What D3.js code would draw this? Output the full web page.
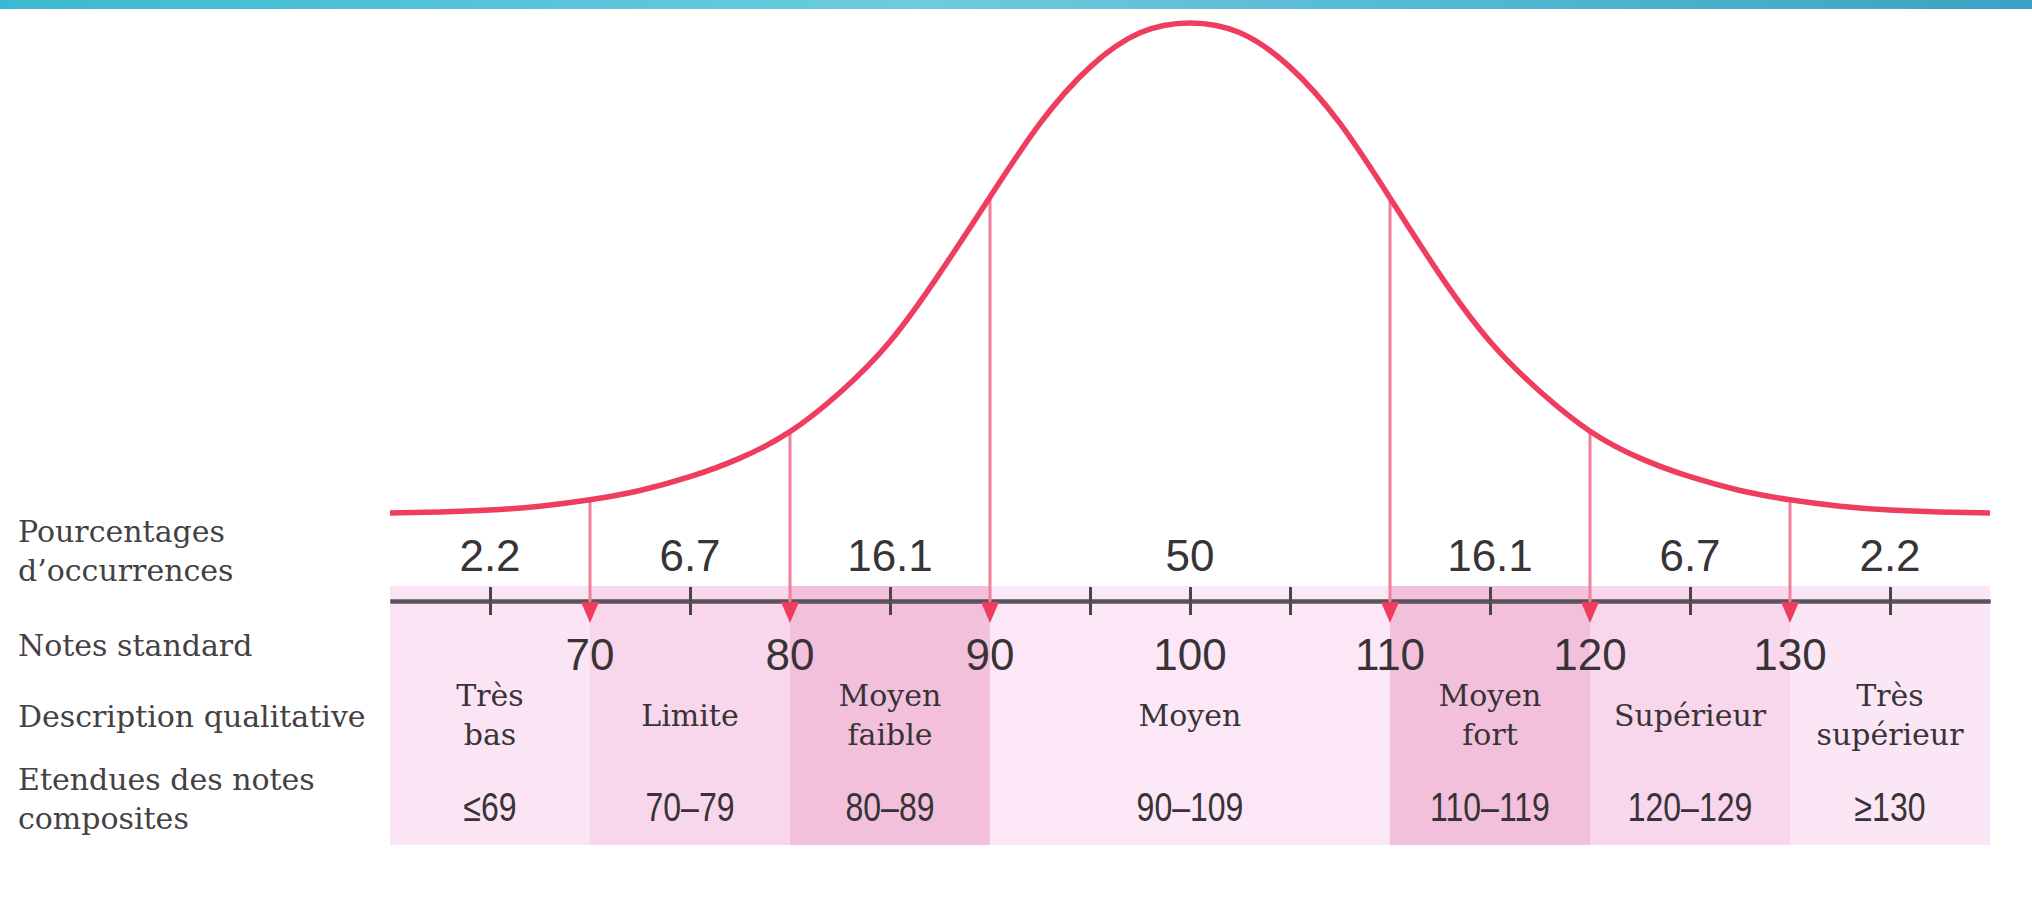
<!DOCTYPE html>
<html>
<head>
<meta charset="utf-8">
<script src="https://cdn.jsdelivr.net/npm/d3@7"></script>
<style>
  body { margin: 0; background: #fff; }
</style>
</head>
<body>
<div id="chart"></div>
<script>
// courbe (hauteur en % du sommet)
const curveScores = [60, 62.5, 65, 67.5, 70, 72.5, 75, 77.5, 80, 82.5, 85, 87.5, 90, 92.5, 95, 97.5, 100,
  102.5, 105, 107.5, 110, 112.5, 115, 117.5, 120, 122.5, 125, 127.5, 130, 132.5, 135, 137.5, 140]
const curveHeights = [0, 0.2, 0.6, 1.4, 2.7, 4.6, 7.4, 11.2, 16.6, 24.6, 35, 49, 64.5, 79.5, 91, 98, 100,
  98, 91, 79.5, 64.3, 48.6, 35, 24.8, 16.7, 11.2, 7.4, 4.6, 2.7, 1.4, 0.6, 0.2, 0]

const cutScores = [70, 80, 90, 100, 110, 120, 130]   // notes standard
const arrowScores = [70, 80, 90, 110, 120, 130]
const tickScores = [65, 75, 85, 95, 100, 105, 115, 125, 135]

const bandFrom = [60, 70, 80, 90, 110, 120, 130]
const bandTo = [70, 80, 90, 110, 120, 130, 140]
const percentages = ['2.2', '6.7', '16.1', '50', '16.1', '6.7', '2.2']
const percentAt = [65, 75, 85, 100, 115, 125, 135]
const descriptions = [['Très', 'bas'], ['Limite'], ['Moyen', 'faible'], ['Moyen'],
  ['Moyen', 'fort'], ['Supérieur'], ['Très', 'supérieur']]
const ranges = ['≤69', '70–79', '80–89', '90–109', '110–119', '120–129', '≥130']

const rowLabels = [
  { lines: ['Pourcentages', 'd’occurrences'], y: 542 },
  { lines: ['Notes standard'], y: 656 },
  { lines: ['Description qualitative'], y: 727 },
  { lines: ['Etendues des notes', 'composites'], y: 790 }
]

const WIDTH = 2032
const HEIGHT = 913
const AXIS_Y = 601
const BAND_TOP = 586
const BAND_BOTTOM = 845
const BAND_COLORS = ['#fbe5f5', '#f8d6eb', '#f3c0dc', '#fce7f6', '#f3c0dc', '#f8d6eb', '#fbe6f6']
const RED = '#ee3d5f'
const TEXT = '#383336'
const SERIF = '"DejaVu Serif", serif'
const SANS = '"Liberation Sans", Arial, sans-serif'

const svg = d3.select('#chart').append('svg')
  .attr('width', WIDTH).attr('height', HEIGHT)

const x = d3.scaleLinear().domain([60, 140]).range([390, 1990])
const y = d3.scaleLinear().domain([0, 100]).range([513, 23])

// bandeau du haut
const grad = svg.append('defs').append('linearGradient').attr('id', 'topbar')
grad.append('stop').attr('offset', '0%').attr('stop-color', '#3cb9d2')
grad.append('stop').attr('offset', '45%').attr('stop-color', '#6ccce0')
grad.append('stop').attr('offset', '100%').attr('stop-color', '#3aa3c3')
svg.append('rect').attr('x', 0).attr('y', 0).attr('width', WIDTH).attr('height', 9)
  .attr('fill', 'url(#topbar)')

// zones colorées
svg.append('g').selectAll('rect')
  .data(bandFrom)
  .enter()
  .append('rect')
  .attr('x', d => x(d))
  .attr('width', (d, i) => x(bandTo[i]) - x(d))
  .attr('y', BAND_TOP)
  .attr('height', BAND_BOTTOM - BAND_TOP)
  .attr('fill', (d, i) => BAND_COLORS[i])

// axe
svg.append('g')
  .attr('transform', `translate(0, ${AXIS_Y})`)
  .call(d3.axisBottom(x).tickValues(tickScores).tickSize(14).tickSizeOuter(0).tickFormat(''))
svg.append('g')
  .attr('transform', `translate(0, ${AXIS_Y})`)
  .call(d3.axisTop(x).tickValues(tickScores).tickSize(14).tickSizeOuter(0).tickFormat(''))
svg.selectAll('.domain').attr('stroke', '#59535a').attr('stroke-width', 4)
svg.selectAll('.tick line').attr('stroke', '#4a4549').attr('stroke-width', 3)

// traits verticaux + fleches
const heightAt = s => curveHeights[curveScores.indexOf(s)]
svg.append('g').selectAll('line')
  .data(arrowScores)
  .enter()
  .append('line')
  .attr('x1', d => x(d)).attr('x2', d => x(d))
  .attr('y1', d => y(heightAt(d)))
  .attr('y2', AXIS_Y + 4)
  .attr('stroke', '#f07f99')
  .attr('stroke-width', 3)

svg.append('g').selectAll('path')
  .data(arrowScores)
  .enter()
  .append('path')
  .attr('d', d => `M${x(d) - 9},${AXIS_Y + 1} L${x(d) + 9},${AXIS_Y + 1} L${x(d)},${AXIS_Y + 22} Z`)
  .attr('fill', RED)

// courbe
const line = d3.line()
  .x((d, i) => x(curveScores[i]))
  .y(d => y(d))
  .curve(d3.curveNatural)
svg.append('path')
  .datum(curveHeights)
  .attr('d', line)
  .attr('fill', 'none')
  .attr('stroke', RED)
  .attr('stroke-width', 5.5)

// pourcentages
svg.append('g').selectAll('text')
  .data(percentages)
  .enter()
  .append('text')
  .attr('x', (d, i) => x(percentAt[i]))
  .attr('y', 571)
  .attr('text-anchor', 'middle')
  .attr('font-family', SANS)
  .attr('font-size', 44)
  .attr('fill', TEXT)
  .text(d => d)

// notes standard
svg.append('g').selectAll('text')
  .data(cutScores)
  .enter()
  .append('text')
  .attr('x', d => x(d))
  .attr('y', 670)
  .attr('text-anchor', 'middle')
  .attr('font-family', SANS)
  .attr('font-size', 44)
  .attr('fill', TEXT)
  .text(d => d)

// descriptions
const desc = svg.append('g').selectAll('text')
  .data(descriptions)
  .enter()
  .append('text')
  .attr('text-anchor', 'middle')
  .attr('font-family', SERIF)
  .attr('font-size', 30)
  .attr('fill', TEXT)
desc.selectAll('tspan')
  .data((d, i) => d.map(t => ({ t, n: d.length, cx: x((bandFrom[i] + bandTo[i]) / 2) })))
  .enter()
  .append('tspan')
  .attr('x', d => d.cx)
  .attr('y', (d, j) => d.n === 1 ? 726 : 706 + j * 39)
  .text(d => d.t)

// etendues
svg.append('g').selectAll('text')
  .data(ranges)
  .enter()
  .append('text')
  .attr('transform', (d, i) => `translate(${x((bandFrom[i] + bandTo[i]) / 2)}, 821) scale(0.8, 1)`)
  .attr('text-anchor', 'middle')
  .attr('font-family', SANS)
  .attr('font-size', 40)
  .attr('fill', TEXT)
  .text(d => d)

// libellés à gauche
const rows = svg.append('g').selectAll('text')
  .data(rowLabels)
  .enter()
  .append('text')
  .attr('font-family', SERIF)
  .attr('font-size', 30)
  .attr('fill', '#444043')
rows.selectAll('tspan')
  .data(d => d.lines.map(t => ({ t, y: d.y })))
  .enter()
  .append('tspan')
  .attr('x', 18)
  .attr('y', (d, j) => d.y + j * 39)
  .text(d => d.t)
</script>
</body>
</html>
